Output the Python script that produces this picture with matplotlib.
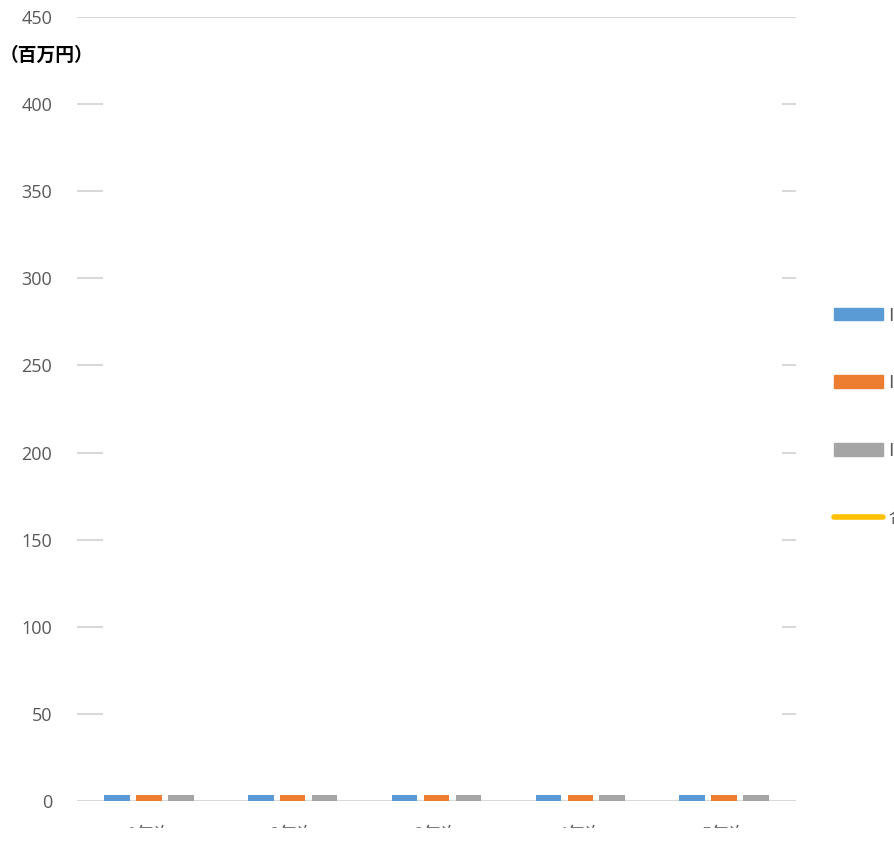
import numpy as np
import matplotlib
matplotlib.use('Agg')
import matplotlib.pyplot as plt
from matplotlib.patches import Rectangle
from matplotlib.lines import Line2D

plt.rcParams['font.family'] = ['Open Sans', 'Noto Sans CJK JP', 'DejaVu Sans']

years = ['1年次', '2年次', '3年次', '4年次', '5年次']
series_names = ['IoT関連売上高', 'ICT関連売上高', 'IT関連売上高', '合計']
sales_a = [3.5, 3.5, 3.5, 3.5, 3.5]
sales_b = [3.5, 3.5, 3.5, 3.5, 3.5]
sales_c = [3.5, 3.5, 3.5, 3.5, 3.5]
total = [np.nan] * 5
yticks = [0, 50, 100, 150, 200, 250, 300, 350, 400, 450]

colors = ['#5b9bd5', '#ed7d31', '#a5a5a5', '#ffc000']
grid_col = '#d9d9d9'
tick_col = '#595959'

fig = plt.figure(figsize=(8.95, 8.41), dpi=100)
W, H = 895, 841
ax = fig.add_axes([77 / W, (H - 801) / H, (796 - 77) / W, (801 - 17) / H])

x = np.arange(len(years))
w = 0.178
off = 0.222
for i, vals in enumerate([sales_a, sales_b, sales_c]):
    ax.bar(x + (i - 1) * off, vals, width=w, color=colors[i], zorder=3)
ax.plot(x, total, color=colors[3], lw=4, zorder=4)

ax.set_xlim(-0.5, 4.5)
ax.set_ylim(0, 450)
for s in ax.spines.values():
    s.set_visible(False)

# full lines at top and bottom, short stubs for the rest
for v in yticks:
    if v in (0, 450):
        ax.axhline(v, color=grid_col, lw=1.5, zorder=1)
    else:
        ax.axhline(v, xmin=0, xmax=0.035, color=grid_col, lw=1.5, zorder=1)
        ax.axhline(v, xmin=0.982, xmax=1.0, color=grid_col, lw=1.5, zorder=1)

ax.set_yticks(yticks)
ax.tick_params(axis='y', length=0, pad=18, labelsize=13, labelcolor=tick_col)
ax.set_xticks(x)
ax.set_xticklabels(years, family=['Noto Sans CJK JP'])
ax.tick_params(axis='x', length=0, pad=18, labelsize=13, labelcolor=tick_col)

fig.text(0, 1 - 55 / H, '（百万円）', fontsize=13.5, color='black',
         va='center', ha='left', family=['Noto Sans CJK JP'], fontweight='bold')

handles = [Rectangle((0, 0), 1, 1, color=c) for c in colors[:3]]
handles.append(Line2D([0], [0], color=colors[3], lw=4, solid_capstyle='round'))
leg = fig.legend(handles, series_names, loc='upper left',
                 bbox_to_anchor=(818 / W, 1 - 290 / H), frameon=False,
                 labelspacing=2.75, handlelength=2.7,
                 handletextpad=0.3, labelcolor=tick_col,
                 prop={'family': ['Noto Sans CJK JP'], 'size': 13})

# bottom strip is blank
fig.patches.append(Rectangle((0, 0), 1, 13 / H, transform=fig.transFigure,
                             color='white', zorder=10))

fig.savefig('out.png', dpi=100)
